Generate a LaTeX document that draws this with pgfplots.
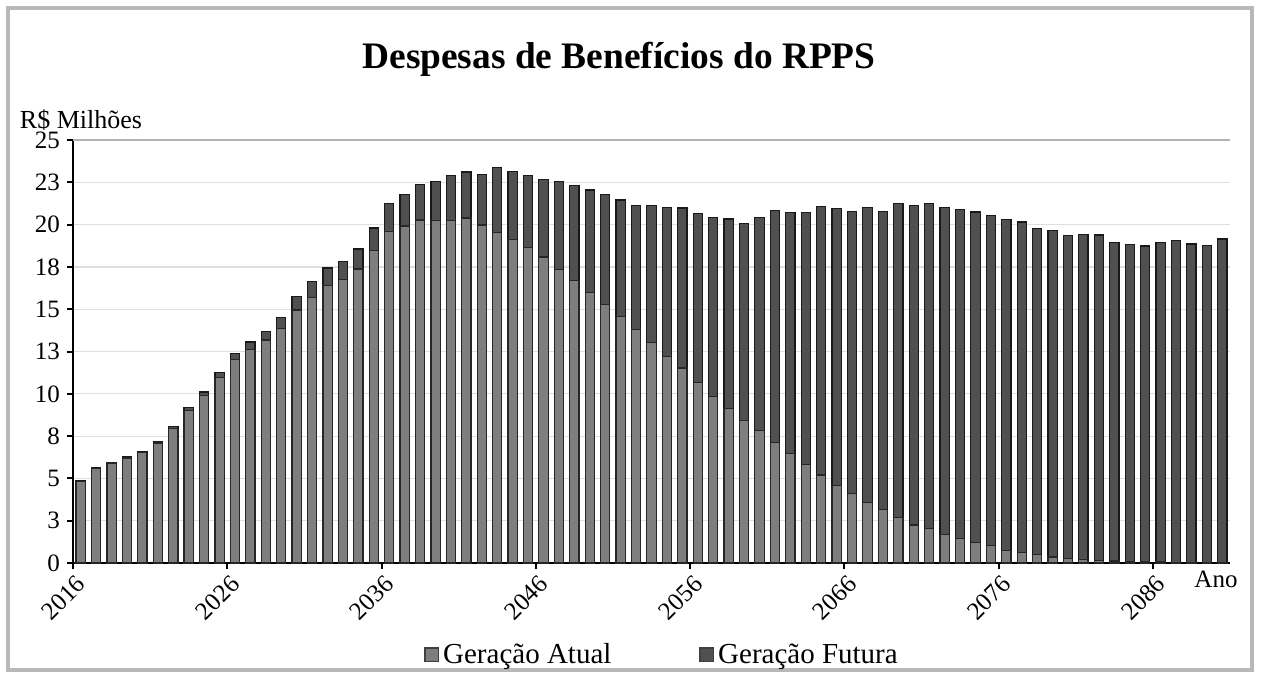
\documentclass[border=0pt]{standalone}
\usepackage{fontspec}
\setmainfont{Liberation Serif}
\usepackage{pgfplots}
\usepackage{pgfplotstable}
\pgfplotsset{compat=1.18}
\definecolor{atual}{HTML}{7E7E7E}
\definecolor{futura}{HTML}{505050}
\definecolor{framec}{HTML}{B8B8B8}
\pgfplotstableread{
x A F
0 4.83 0.02
1 5.59 0.03
2 5.91 0.04
3 6.21 0.05
4 6.53 0.06
5 7.09 0.08
6 7.93 0.12
7 9.02 0.17
8 9.89 0.22
9 10.96 0.28
10 12.03 0.33
11 12.64 0.42
12 13.18 0.50
13 13.87 0.63
14 14.95 0.79
15 15.69 0.93
16 16.41 1.02
17 16.75 1.08
18 17.38 1.18
19 18.47 1.33
20 19.60 1.65
21 19.92 1.88
22 20.27 2.09
23 20.24 2.32
24 20.24 2.66
25 20.39 2.72
26 19.98 3.00
27 19.53 3.84
28 19.13 4.00
29 18.64 4.28
30 18.08 4.57
31 17.35 5.18
32 16.69 5.60
33 15.99 6.05
34 15.30 6.46
35 14.56 6.90
36 13.81 7.33
37 13.02 8.11
38 12.22 8.81
39 11.52 9.46
40 10.68 9.97
41 9.84 10.57
42 9.14 11.19
43 8.44 11.64
44 7.85 12.57
45 7.11 13.71
46 6.45 14.26
47 5.80 14.90
48 5.20 15.86
49 4.59 16.36
50 4.11 16.65
51 3.56 17.47
52 3.16 17.63
53 2.71 18.56
54 2.25 18.89
55 2.05 19.21
56 1.69 19.32
57 1.44 19.44
58 1.19 19.56
59 1.04 19.48
60 0.73 19.58
61 0.62 19.53
62 0.52 19.27
63 0.36 19.30
64 0.27 19.11
65 0.21 19.21
66 0.15 19.24
67 0.12 18.84
68 0.10 18.74
69 0.08 18.66
70 0.06 18.88
71 0.05 19.02
72 0.04 18.82
73 0.03 18.74
74 0.02 19.13
}\data
\begin{document}
\begin{tikzpicture}
\path (-36.5pt,-57pt) rectangle (594pt,281.5pt);
\draw[framec, line width=1.6pt] (-32.5pt,-53.5pt) rectangle (589.5pt,277.5pt);
\begin{axis}[
  at={(0,0)}, anchor=south west,
  scale only axis, width=578.5pt, height=211.5pt,
  ybar stacked, bar width=0.6,
  enlargelimits=false,
  xmin=-0.5, xmax=74.5, ymin=0, ymax=25,
  axis x line*=bottom, axis y line*=left,
  axis line style={line width=1.4pt, black},
  xtick={-0.5,9.5,19.5,29.5,39.5,49.5,59.5,69.5},
  xticklabels={2016,2026,2036,2046,2056,2066,2076,2086},
  ytick={0,2.5,5,7.5,10,12.5,15,17.5,20,22.5,25},
  yticklabels={0,3,5,8,10,13,15,18,20,23,25},
  tick align=outside,
  major tick length=3pt,
  tick style={black, line width=1pt},
  xticklabel style={xshift=6.5pt, yshift=-3pt, rotate=45, anchor=east, font=\fontsize{12.5}{13}\selectfont},
  yticklabel style={font=\fontsize{12.5}{13}\selectfont},
  /pgf/number format/assume math mode=true,
  ymajorgrids,
  grid style={gray!25, line width=0.6pt},
  extra y ticks={25}, extra y tick labels={},
  extra y tick style={grid style={gray!60, line width=0.8pt}},
  legend style={at={(0.51,-0.17)}, anchor=north, draw=none, fill=none,
    font=\fontsize{14.5}{15}\selectfont,
    /tikz/every even column/.append style={column sep=42pt}},
  legend columns=2,
  legend cell align=left,
  legend image code/.code={\draw[#1, draw=black!75, line width=0.6pt] (0pt,-3.4pt) rectangle (6.8pt,3.4pt);},
]
\addplot[fill=atual, draw=black!85, line width=0.6pt] table[x=x, y=A] {\data};
\addlegendentry{Geração Atual}
\addplot[fill=futura, draw=black!90, line width=0.6pt] table[x=x, y=F] {\data};
\addlegendentry{Geração Futura}
\end{axis}
\node[font=\bfseries\fontsize{18.7}{20}\selectfont] at (273pt,252pt) {Despesas de Benefícios do RPPS};
\node[font=\fontsize{13}{14}\selectfont] at (4pt,221.5pt) {R\$ Milhões};
\node[font=\fontsize{12.5}{13}\selectfont] at (571.5pt,-8pt) {Ano};
\end{tikzpicture}
\end{document}
